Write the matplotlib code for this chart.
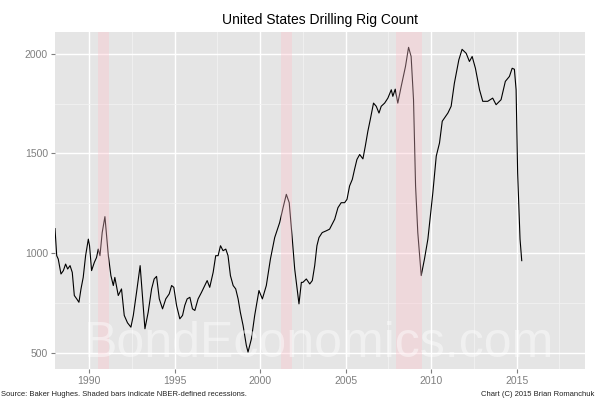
import matplotlib
matplotlib.use("Agg")
import matplotlib.pyplot as plt
import numpy as np

plt.rcParams['font.family'] = ['Liberation Sans', 'DejaVu Sans']

years = [1988.0, 1988.1, 1988.19, 1988.35, 1988.49, 1988.62, 1988.74, 1988.88, 1989.01, 1989.13,
         1989.27, 1989.4, 1989.52, 1989.65, 1989.79, 1989.95, 1990.02, 1990.14, 1990.3, 1990.43,
         1990.53, 1990.63, 1990.76, 1990.92, 1991.02, 1991.12, 1991.27, 1991.41, 1991.5, 1991.7,
         1991.89, 1992.05, 1992.24, 1992.44, 1992.58, 1992.77, 1992.98, 1993.1, 1993.26, 1993.45,
         1993.65, 1993.8, 1993.94, 1994.1, 1994.29, 1994.48, 1994.68, 1994.82, 1994.95, 1995.11,
         1995.3, 1995.46, 1995.59, 1995.73, 1995.89, 1996.04, 1996.18, 1996.37, 1996.57, 1996.76,
         1996.9, 1997.05, 1997.25, 1997.4, 1997.54, 1997.68, 1997.83, 1997.99, 1998.12, 1998.26,
         1998.42, 1998.57, 1998.71, 1998.84, 1999.0, 1999.19, 1999.29, 1999.49, 1999.68, 1999.93,
         2000.13, 2000.36, 2000.6, 2000.85, 2001.14, 2001.34, 2001.53, 2001.7, 2001.88, 2002.02,
         2002.27, 2002.41, 2002.5, 2002.7, 2002.9, 2003.05, 2003.19, 2003.32, 2003.44, 2003.63,
         2003.87, 2004.06, 2004.16, 2004.36, 2004.55, 2004.74, 2004.94, 2005.08, 2005.23, 2005.39,
         2005.52, 2005.66, 2005.82, 2006.01, 2006.15, 2006.3, 2006.44, 2006.63, 2006.79, 2006.95,
         2007.08, 2007.28, 2007.47, 2007.67, 2007.76, 2007.9, 2008.05, 2008.25, 2008.5, 2008.68,
         2008.83, 2008.97, 2009.09, 2009.22, 2009.42, 2009.61, 2009.81, 2010.1, 2010.3, 2010.49,
         2010.65, 2010.98, 2011.17, 2011.36, 2011.62, 2011.81, 2012.05, 2012.24, 2012.4, 2012.59,
         2012.83, 2013.02, 2013.31, 2013.6, 2013.8, 2014.09, 2014.34, 2014.58, 2014.74, 2014.87,
         2014.97, 2015.06, 2015.2, 2015.3]
rigs = [1123, 987, 970, 895, 912, 945, 920, 937, 903, 787,
        770, 753, 820, 878, 987, 1070, 1037, 912, 953, 978,
        1020, 987, 1103, 1183, 1087, 987, 887, 837, 878, 787,
        820, 687, 650, 628, 687, 803, 937, 803, 620, 703,
        820, 870, 883, 770, 720, 770, 795, 837, 828, 737,
        670, 687, 737, 770, 778, 720, 712, 770, 803, 837,
        862, 828, 903, 987, 987, 1037, 1012, 1020, 987, 887,
        837, 820, 770, 703, 637, 537, 503, 570, 687, 812,
        770, 837, 970, 1078, 1153, 1228, 1295, 1253, 1070, 920,
        745, 853, 853, 870, 845, 862, 937, 1037, 1078, 1103,
        1112, 1120, 1137, 1170, 1228, 1253, 1253, 1270, 1337, 1370,
        1420, 1470, 1495, 1473, 1537, 1612, 1670, 1753, 1737, 1703,
        1737, 1753, 1778, 1820, 1787, 1823, 1753, 1837, 1937, 2033,
        1987, 1770, 1337, 1103, 887, 970, 1070, 1303, 1487, 1553,
        1662, 1703, 1737, 1853, 1970, 2023, 2003, 1962, 1987, 1928,
        1820, 1762, 1762, 1778, 1745, 1770, 1862, 1887, 1928, 1923,
        1820, 1403, 1070, 962]

rec_start = [1990.5, 2001.2, 2007.95]
rec_end = [1991.15, 2001.88, 2009.45]

title = "United States Drilling Rig Count"
x_ticks = [1990, 1995, 2000, 2005, 2010, 2015]
y_ticks = [500, 1000, 1500, 2000]

fig = plt.figure(figsize=(6, 4), dpi=100)
ax = fig.add_axes([55/600, 1-369/400, 530/600, 337/400])
ax.set_facecolor('#E5E5E5')
for s in ax.spines.values():
    s.set_visible(False)

ax.plot(years, rigs, color='black', lw=0.8, zorder=3)
for a, b in zip(rec_start, rec_end):
    ax.axvspan(a, b, color='#FFC0CB', alpha=0.35, lw=0, zorder=4)

ax.set_xticks(x_ticks)
ax.set_yticks(y_ticks)
ax.set_xticks([1992.5, 1997.5, 2002.5, 2007.5, 2012.5, 2017.5], minor=True)
ax.set_yticks([750, 1250, 1750], minor=True)
ax.set_xlim(1988.0, 2019.0)
ax.set_ylim(418, 2110)
ax.grid(which='major', color='white', lw=1.0, zorder=1)
ax.grid(which='minor', color='#F2F2F2', lw=0.6, zorder=1)
ax.set_axisbelow(True)
ax.tick_params(which='major', length=3, color='#7F7F7F', labelcolor='#7F7F7F', labelsize=7.5, pad=2)
ax.tick_params(which='minor', length=0)

ax.text(0.5, 1.015, title, transform=ax.transAxes, ha='center', va='bottom', fontsize=10, color='black')

ax.text(319/600, 1-357/400, "BondEconomics.com", transform=fig.transFigure, ha='center', va='baseline',
        fontsize=36, color='white', alpha=0.45, zorder=5)

fig.text(0.002, 1-396/400, "Source: Baker Hughes. Shaded bars indicate NBER-defined recessions.",
         ha='left', va='baseline', fontsize=5.5, color='#222222')
fig.text(594/600, 1-396/400, "Chart (C) 2015 Brian Romanchuk",
         ha='right', va='baseline', fontsize=5.5, color='#222222')

fig.savefig('out.png', dpi=100)
